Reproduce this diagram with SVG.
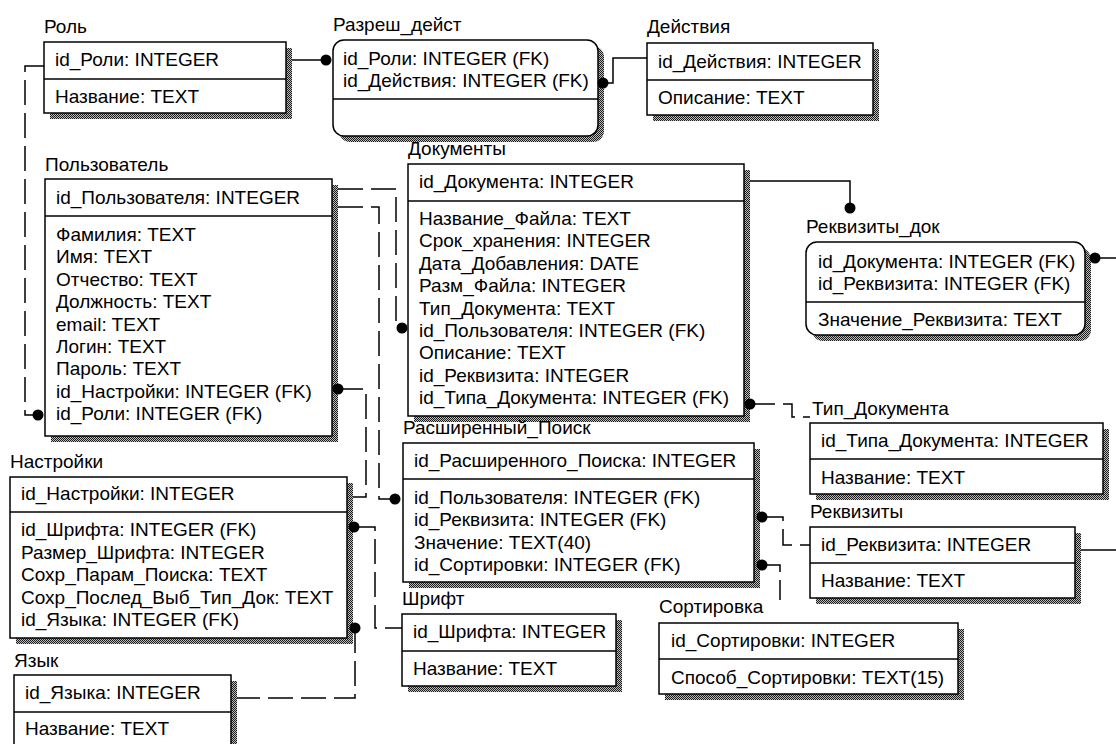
<svg xmlns="http://www.w3.org/2000/svg" width="1116" height="744" viewBox="0 0 1116 744">
  <defs>
    <!-- stippled drop shadow used under every entity box -->
    <pattern id="stipple" width="2" height="2" patternUnits="userSpaceOnUse">
      <rect width="2" height="2" fill="#bdbdbd"/>
      <rect x="0" y="0" width="1" height="1" fill="#1a1a1a"/>
      <rect x="1" y="1" width="1" height="1" fill="#1a1a1a"/>
    </pattern>
    <style>
      .t { font-family: "Liberation Sans", Arial, sans-serif; font-size: 19px; fill: #000; }
      .box { fill: #fff; stroke: #000; stroke-width: 1.5; }
      .sh { fill: url(#stipple); }
      .sep { stroke: #000; stroke-width: 1.5; }
      .rel { fill: none; stroke: #000; stroke-width: 1.5; }
      .dash { stroke-dasharray: 25 8; }
      .dot { fill: #000; }
    </style>
  </defs>
  <rect width="1116" height="744" fill="#fff"/>

  <!-- Роль -->
  <g id="role">
    <rect class="sh" x="50" y="48" width="242" height="71"/>
    <rect class="box" x="44" y="42" width="242" height="71"/>
    <line class="sep" x1="44" y1="79" x2="286" y2="79"/>
    <text class="t" x="44" y="33">Роль</text>
    <text class="t" x="55" y="66">id_Роли: INTEGER</text>
    <text class="t" x="55" y="103">Название: TEXT</text>
  </g>

  <!-- Разреш_дейст -->
  <g id="role-action">
    <rect class="sh" x="339" y="46" width="265" height="96" rx="11"/>
    <rect class="box" x="333" y="40" width="265" height="96" rx="11"/>
    <line class="sep" x1="333" y1="99" x2="598" y2="99"/>
    <text class="t" x="333" y="31">Разреш_дейст</text>
    <text class="t" x="343" y="65">id_Роли: INTEGER (FK)</text>
    <text class="t" x="343" y="87">id_Действия: INTEGER (FK)</text>
  </g>

  <!-- Действия -->
  <g id="action">
    <rect class="sh" x="653" y="49" width="226" height="72"/>
    <rect class="box" x="647" y="43" width="226" height="72"/>
    <line class="sep" x1="647" y1="80" x2="873" y2="80"/>
    <text class="t" x="647" y="33">Действия</text>
    <text class="t" x="658" y="68">id_Действия: INTEGER</text>
    <text class="t" x="658" y="104">Описание: TEXT</text>
  </g>

  <!-- Пользователь -->
  <g id="user">
    <rect class="sh" x="51" y="185" width="287" height="257"/>
    <rect class="box" x="45" y="179" width="287" height="257"/>
    <line class="sep" x1="45" y1="216" x2="332" y2="216"/>
    <text class="t" x="45" y="171">Пользователь</text>
    <text class="t" x="56" y="204">id_Пользователя: INTEGER</text>
    <text class="t" x="56" y="241">Фамилия: TEXT</text>
    <text class="t" x="56" y="263.4">Имя: TEXT</text>
    <text class="t" x="56" y="285.8">Отчество: TEXT</text>
    <text class="t" x="56" y="308.2">Должность: TEXT</text>
    <text class="t" x="56" y="330.6">email: TEXT</text>
    <text class="t" x="56" y="353">Логин: TEXT</text>
    <text class="t" x="56" y="375.4">Пароль: TEXT</text>
    <text class="t" x="56" y="397.8">id_Настройки: INTEGER (FK)</text>
    <text class="t" x="56" y="420.2">id_Роли: INTEGER (FK)</text>
  </g>

  <!-- Документы -->
  <g id="documents">
    <rect class="sh" x="414" y="170" width="336" height="252"/>
    <rect class="box" x="408" y="164" width="336" height="252"/>
    <line class="sep" x1="408" y1="201" x2="744" y2="201"/>
    <text class="t" x="408" y="155">Документы</text>
    <text class="t" x="419" y="188">id_Документа: INTEGER</text>
    <text class="t" x="419" y="225">Название_Файла: TEXT</text>
    <text class="t" x="419" y="247.4">Срок_хранения: INTEGER</text>
    <text class="t" x="419" y="269.8">Дата_Добавления: DATE</text>
    <text class="t" x="419" y="292.2">Разм_Файла: INTEGER</text>
    <text class="t" x="419" y="314.6">Тип_Документа: TEXT</text>
    <text class="t" x="419" y="337">id_Пользователя: INTEGER (FK)</text>
    <text class="t" x="419" y="359.4">Описание: TEXT</text>
    <text class="t" x="419" y="381.8">id_Реквизита: INTEGER</text>
    <text class="t" x="419" y="404.2">id_Типа_Документа: INTEGER (FK)</text>
  </g>

  <!-- Реквизиты_док -->
  <g id="doc-attrs">
    <rect class="sh" x="812" y="248" width="279" height="93" rx="11"/>
    <rect class="box" x="806" y="242" width="279" height="93" rx="11"/>
    <line class="sep" x1="806" y1="302" x2="1085" y2="302"/>
    <text class="t" x="806" y="233">Реквизиты_док</text>
    <text class="t" x="818" y="268">id_Документа: INTEGER (FK)</text>
    <text class="t" x="818" y="290">id_Реквизита: INTEGER (FK)</text>
    <text class="t" x="818" y="326">Значение_Реквизита: TEXT</text>
  </g>

  <!-- Тип_Документа -->
  <g id="doc-type">
    <rect class="sh" x="816" y="429" width="293" height="71"/>
    <rect class="box" x="810" y="423" width="293" height="71"/>
    <line class="sep" x1="810" y1="459" x2="1103" y2="459"/>
    <text class="t" x="812" y="415">Тип_Документа</text>
    <text class="t" x="821" y="447">id_Типа_Документа: INTEGER</text>
    <text class="t" x="821" y="484">Название: TEXT</text>
  </g>

  <!-- Расширенный_Поиск -->
  <g id="advanced-search">
    <rect class="sh" x="409" y="449" width="351" height="139"/>
    <rect class="box" x="403" y="443" width="351" height="139"/>
    <line class="sep" x1="403" y1="479" x2="754" y2="479"/>
    <text class="t" x="403" y="434">Расширенный_Поиск</text>
    <text class="t" x="414" y="467">id_Расширенного_Поиска: INTEGER</text>
    <text class="t" x="414" y="504">id_Пользователя: INTEGER (FK)</text>
    <text class="t" x="414" y="526.4">id_Реквизита: INTEGER (FK)</text>
    <text class="t" x="414" y="548.8">Значение: TEXT(40)</text>
    <text class="t" x="414" y="571.2">id_Сортировки: INTEGER (FK)</text>
  </g>

  <!-- Реквизиты -->
  <g id="attrs">
    <rect class="sh" x="816" y="533" width="265" height="71"/>
    <rect class="box" x="810" y="527" width="265" height="71"/>
    <line class="sep" x1="810" y1="563" x2="1075" y2="563"/>
    <text class="t" x="810" y="518">Реквизиты</text>
    <text class="t" x="821" y="551">id_Реквизита: INTEGER</text>
    <text class="t" x="821" y="587">Название: TEXT</text>
  </g>

  <!-- Сортировка -->
  <g id="sorting">
    <rect class="sh" x="665" y="629" width="299" height="71"/>
    <rect class="box" x="659" y="623" width="299" height="71"/>
    <line class="sep" x1="659" y1="659" x2="958" y2="659"/>
    <text class="t" x="659" y="613">Сортировка</text>
    <text class="t" x="671" y="647">id_Сортировки: INTEGER</text>
    <text class="t" x="671" y="684">Способ_Сортировки: TEXT(15)</text>
  </g>

  <!-- Шрифт -->
  <g id="font">
    <rect class="sh" x="408" y="620" width="214" height="72"/>
    <rect class="box" x="402" y="614" width="214" height="72"/>
    <line class="sep" x1="402" y1="651" x2="616" y2="651"/>
    <text class="t" x="402" y="605">Шрифт</text>
    <text class="t" x="413" y="638">id_Шрифта: INTEGER</text>
    <text class="t" x="413" y="675">Название: TEXT</text>
  </g>

  <!-- Настройки -->
  <g id="settings">
    <rect class="sh" x="16" y="483" width="337" height="161"/>
    <rect class="box" x="10" y="477" width="337" height="161"/>
    <line class="sep" x1="10" y1="512" x2="347" y2="512"/>
    <text class="t" x="10" y="468">Настройки</text>
    <text class="t" x="21" y="500">id_Настройки: INTEGER</text>
    <text class="t" x="21" y="536">id_Шрифта: INTEGER (FK)</text>
    <text class="t" x="21" y="558.6">Размер_Шрифта: INTEGER</text>
    <text class="t" x="21" y="581.2">Сохр_Парам_Поиска: TEXT</text>
    <text class="t" x="21" y="603.8">Сохр_Послед_Выб_Тип_Док: TEXT</text>
    <text class="t" x="21" y="626.4">id_Языка: INTEGER (FK)</text>
  </g>

  <!-- Язык -->
  <g id="language">
    <rect class="sh" x="20" y="681" width="217" height="80"/>
    <rect class="box" x="14" y="675" width="217" height="80"/>
    <line class="sep" x1="14" y1="712" x2="231" y2="712"/>
    <text class="t" x="14" y="667">Язык</text>
    <text class="t" x="25" y="699">id_Языка: INTEGER</text>
    <text class="t" x="25" y="735">Название: TEXT</text>
  </g>

  <!-- relationships -->
  <g id="connectors">
    <!-- identifying (solid) -->
    <path class="rel" d="M292,60 H326"/>
    <circle class="dot" cx="326" cy="60" r="5.5"/>
    <path class="rel" d="M603,83 H613 V58 H647"/>
    <circle class="dot" cx="603" cy="83" r="5.5"/>
    <path class="rel" d="M750,181 H850 V208"/>
    <circle class="dot" cx="850" cy="208" r="5.5"/>
    <path class="rel" d="M1095,258 H1116"/>
    <circle class="dot" cx="1095" cy="258" r="5.5"/>
    <path class="rel" d="M1081,550 H1116"/>

    <!-- non-identifying (dashed) -->
    <path class="rel dash" d="M44,66 H25 V415 H38"/>
    <circle class="dot" cx="38" cy="415" r="5.5"/>
    <path class="rel dash" d="M338,189 H396 V328 H402"/>
    <circle class="dot" cx="402" cy="328" r="5.5"/>
    <path class="rel dash" d="M338,207 H379 V499 H395"/>
    <circle class="dot" cx="395" cy="499" r="5.5"/>
    <path class="rel dash" d="M338,389 H366 V497 H353"/>
    <circle class="dot" cx="338" cy="389" r="5.5"/>
    <path class="rel dash" d="M354,527 H375 V628 H402"/>
    <circle class="dot" cx="354" cy="527" r="5.5"/>
    <path class="rel dash" d="M355,628 V698 H237"/>
    <circle class="dot" cx="355" cy="628" r="5.5"/>
    <path class="rel dash" d="M750,404 H792 V417 H810"/>
    <circle class="dot" cx="750" cy="404" r="5.5"/>
    <path class="rel dash" d="M762,517 H783 V545 H810"/>
    <circle class="dot" cx="762" cy="517" r="5.5"/>
    <path class="rel dash" d="M762,565 H780 V600"/>
    <circle class="dot" cx="762" cy="565" r="5.5"/>
  </g>
</svg>
